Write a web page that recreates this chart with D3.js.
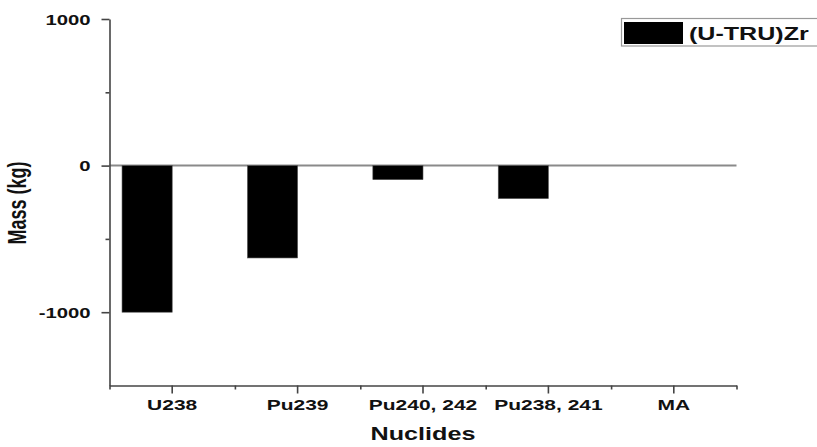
<!DOCTYPE html>
<html>
<head>
<meta charset="utf-8">
<script src="https://cdn.jsdelivr.net/npm/d3@7/dist/d3.min.js"></script>
<style>
  html, body { margin: 0; padding: 0; background: #fff; }
  svg { display: block; }
  text { font-family: "Liberation Sans", Arial, sans-serif; font-weight: bold; fill: #111; }
</style>
</head>
<body>
<svg id="chart" width="817" height="447"></svg>
<script>
const categories = ["U238", "Pu239", "Pu240, 242", "Pu238, 241", "MA"];
const seriesName = "(U-TRU)Zr";
const seriesValues = [-1000, -630, -96, -225, 0];
const yMajorTicks = [1000, 0, -1000];
const yMinorTicks = [500, -500];
const yDomain = [-1500, 1000];
const xLabel = "Nuclides";
const yLabel = "Mass (kg)";

const SX = 1.4; // horizontal stretch of the text in the reference
const svg = d3.select("#chart");
const plotLeft = 109.5, plotRight = 736.5, plotTop = 19, plotBottom = 385.5;

const x = d3.scaleBand().domain(categories).range([plotLeft, plotRight]).paddingInner(0).paddingOuter(0);
const xEdges = d3.scaleLinear().domain([0, categories.length]).range([plotLeft, plotRight]);
const y = d3.scaleLinear().domain(yDomain).range([plotBottom, plotTop]);

const axisColor = "#444";

// zero line
svg.append("line")
  .attr("x1", plotLeft).attr("x2", plotRight)
  .attr("y1", y(0)).attr("y2", y(0))
  .attr("stroke", "#8a8a8a").attr("stroke-width", 2);

// bars (offset left half of the category, as in grouped chart)
svg.append("g").selectAll("rect")
  .data(categories.map((c, i) => ({ c, v: seriesValues[i] })))
  .join("rect")
  .attr("x", d => x(d.c) + x.bandwidth() * 0.1)
  .attr("width", x.bandwidth() * 0.4)
  .attr("y", d => y(Math.max(0, d.v)))
  .attr("height", d => Math.abs(y(d.v) - y(0)))
  .attr("fill", "#000")
  .attr("stroke", "#555").attr("stroke-width", 0.6);

// Y axis major
const gy = svg.append("g").attr("transform", `translate(${plotLeft},0)`)
  .call(d3.axisLeft(y).tickValues(yMajorTicks).tickSizeInner(8).tickSizeOuter(0).tickFormat(d => String(d)));
gy.attr("font-family", null).attr("font-size", null);
gy.select(".domain").attr("stroke", axisColor).attr("stroke-width", 1.6);
gy.selectAll(".tick line").attr("stroke", axisColor).attr("stroke-width", 1.6);
gy.selectAll(".tick text")
  .attr("x", -19 / SX).attr("dy", "0.36em")
  .attr("transform", `scale(${SX},1)`)
  .attr("fill", "#111")
  .style("font-size", "14.5px");

// Y axis minor
const gym = svg.append("g").attr("transform", `translate(${plotLeft},0)`)
  .call(d3.axisLeft(y).tickValues(yMinorTicks).tickSizeInner(4).tickSizeOuter(0).tickFormat(""));
gym.select(".domain").remove();
gym.selectAll(".tick line").attr("stroke", axisColor).attr("stroke-width", 1.6);

// X axis major
const gx = svg.append("g").attr("transform", `translate(0,${plotBottom})`)
  .call(d3.axisBottom(x).tickSizeInner(8).tickSizeOuter(0));
gx.attr("font-family", null).attr("font-size", null);
gx.select(".domain").attr("stroke", axisColor).attr("stroke-width", 1.6);
gx.selectAll(".tick line").attr("stroke", axisColor).attr("stroke-width", 1.6);
gx.selectAll(".tick text")
  .attr("y", 24.5).attr("dy", 0)
  .attr("transform", `scale(${SX},1)`)
  .attr("fill", "#111")
  .style("font-size", "15px");

// X axis minor (category boundaries)
const gxm = svg.append("g").attr("transform", `translate(0,${plotBottom})`)
  .call(d3.axisBottom(xEdges).tickValues(d3.range(categories.length + 1)).tickSizeInner(4).tickSizeOuter(0).tickFormat(""));
gxm.select(".domain").remove();
gxm.selectAll(".tick line").attr("stroke", axisColor).attr("stroke-width", 1.6);

// axis titles
svg.append("text")
  .attr("transform", `translate(${(plotLeft + plotRight) / 2},440) scale(${SX},1)`)
  .attr("text-anchor", "middle")
  .style("font-size", "18px")
  .text(xLabel);

svg.append("text")
  .attr("transform", `translate(26,203) scale(${SX},1) rotate(-90)`)
  .attr("text-anchor", "middle")
  .style("font-size", "18px")
  .text(yLabel);

// legend
const lg = svg.append("g");
lg.append("rect")
  .attr("x", 621.5).attr("y", 18.5).attr("width", 220).attr("height", 27.5)
  .attr("fill", "#fff").attr("stroke", "#999").attr("stroke-width", 1.2);
lg.append("rect")
  .attr("x", 624).attr("y", 22).attr("width", 59).attr("height", 22)
  .attr("fill", "#000");
lg.append("text")
  .attr("transform", `translate(689,39.5) scale(1.32,1)`)
  .style("font-size", "19px")
  .text(seriesName);
</script>
</body>
</html>
